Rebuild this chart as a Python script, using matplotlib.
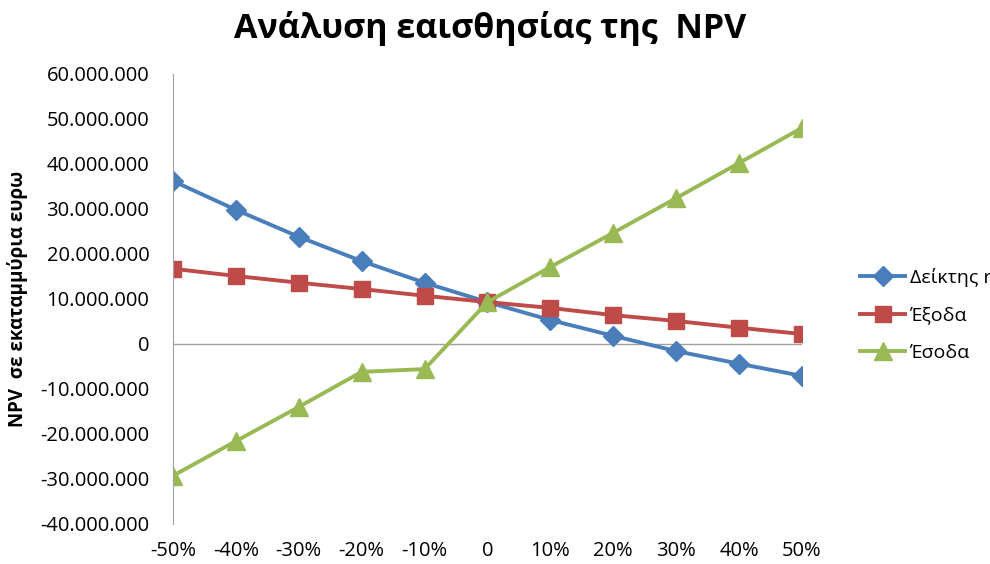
import matplotlib
matplotlib.use("Agg")
import matplotlib.pyplot as plt
from matplotlib.ticker import FuncFormatter

categories = ["-50%", "-40%", "-30%", "-20%", "-10%", "0", "10%", "20%", "30%", "40%", "50%"]
deiktis_r = [36.2e6, 29.8e6, 23.8e6, 18.4e6, 13.6e6, 9.3e6, 5.3e6, 1.8e6, -1.6e6, -4.4e6, -7.1e6]
exoda = [16.7e6, 15.1e6, 13.6e6, 12.2e6, 10.7e6, 9.3e6, 8.0e6, 6.4e6, 5.1e6, 3.6e6, 2.2e6]
esoda = [-29.3e6, -21.6e6, -14.0e6, -6.2e6, -5.6e6, 9.3e6, 17.1e6, 24.7e6, 32.4e6, 40.2e6, 48.0e6]
series_names = ["Δείκτης r", "Έξοδα", "Έσοδα"]

plt.rcParams['font.family'] = ['Open Sans', 'DejaVu Sans']

fig = plt.figure(figsize=(9.9, 5.64), dpi=100)
ax = fig.add_axes([0.1747, 0.071, 0.6354, 0.798])

x = list(range(len(categories)))
ax.plot(x, deiktis_r, color="#4A7EBB", lw=2.8, marker="D", ms=10, label=series_names[0])
ax.plot(x, exoda, color="#BE4B48", lw=2.8, marker="s", ms=11, label=series_names[1])
ax.plot(x, esoda, color="#98B954", lw=2.8, marker="^", ms=13, label=series_names[2])

ax.set_xlim(0, len(categories) - 1)
ax.set_ylim(-40e6, 60e6)
ax.set_yticks([i * 10e6 for i in range(-4, 7)])
ax.yaxis.set_major_formatter(FuncFormatter(lambda v, p: "0" if v == 0 else f"{int(round(v)):,}".replace(",", ".")))
ax.set_xticks(x)
ax.set_xticklabels(categories)

for s in ["top", "right", "bottom"]:
    ax.spines[s].set_visible(False)
ax.spines["left"].set_color("#A0A0A0")
ax.axhline(0, color="#A0A0A0", lw=1, zorder=1)
ax.tick_params(axis="both", length=0, labelsize=14.5, colors="#000000")
ax.tick_params(axis="y", pad=17)
ax.tick_params(axis="x", pad=12)

ax.set_ylabel("NPV  σε εκαταμμύρια ευρω", fontsize=13.5, fontweight="bold")
ax.yaxis.set_label_coords(-0.231, 0.5)
fig.text(0.495, 0.95, "Ανάλυση εαισθησίας της  NPV", ha="center", va="center",
         fontsize=24.5, fontweight="bold")

ax.legend(loc="center left", bbox_to_anchor=(1.065, 0.464), frameon=False, fontsize=14,
          handlelength=2.3, labelspacing=1.0, handletextpad=0.25)

fig.savefig("out.png", dpi=100)
